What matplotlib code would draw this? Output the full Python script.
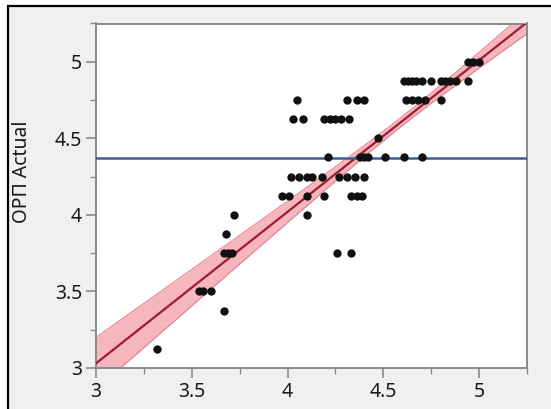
import numpy as np
import matplotlib
matplotlib.use("Agg")
import matplotlib.pyplot as plt
from matplotlib.patches import Rectangle
from matplotlib.ticker import MultipleLocator

# actual values come in steps of 1/8; predicted values for each row
actual_levels = [3.125, 3.375, 3.5, 3.75, 3.875, 4.0, 4.125, 4.25,
                 4.375, 4.5, 4.625, 4.75, 4.875, 5.0]
predicted_rows = [
    [3.32],
    [3.67],
    [3.54, 3.56, 3.60],
    [3.67, 3.69, 3.71, 4.26, 4.33],
    [3.68],
    [3.72, 4.10],
    [3.97, 4.01, 4.10, 4.19, 4.33, 4.36, 4.39],
    [4.02, 4.06, 4.10, 4.13, 4.18, 4.27, 4.31, 4.35, 4.40],
    [4.21, 4.38, 4.40, 4.42, 4.51, 4.61, 4.70],
    [4.47],
    [4.03, 4.08, 4.19, 4.22, 4.25, 4.28, 4.32],
    [4.05, 4.31, 4.36, 4.40, 4.62, 4.65, 4.68, 4.72, 4.80],
    [4.61, 4.63, 4.65, 4.67, 4.70, 4.75, 4.80, 4.82, 4.85, 4.88, 4.94],
    [4.94, 4.97, 5.00],
]

mean_actual = 4.37
fit_slope = 0.99
fit_intercept = 0.06
ci_center_x = 4.6      # where the confidence band is narrowest
ci_at_center = 0.03    # half width of the band there
ci_at_left = 0.17      # half width of the band at x = 3

ticks = [3, 3.5, 4, 4.5, 5]
tick_labels = ["3", "3.5", "4", "4.5", "5"]

pred = [p for row in predicted_rows for p in row]
act = [lvl for lvl, row in zip(actual_levels, predicted_rows) for _ in row]

plt.rcParams['font.family'] = ['Noto Sans', 'DejaVu Sans']

fig = plt.figure(figsize=(5.51, 4.09), dpi=100)
fig.patch.set_facecolor('white')
# outer panel frame (open at right and bottom, the screenshot is cropped)
fig.add_artist(Rectangle((8 / 551, -0.1), 1.0, 1 - 6 / 409 + 0.1,
                         transform=fig.transFigure, facecolor='#f0f0f0',
                         edgecolor='black', lw=1.6, zorder=-1))

ax = fig.add_axes([96 / 551, 1 - 368 / 409, 431 / 551, 344.5 / 409])
ax.set_facecolor('white')
ax.set_xlim(3, 5.25)
ax.set_ylim(3, 5.25)

xs = np.linspace(3, 5.25, 200)
fit = fit_slope * xs + fit_intercept
b2 = (ci_at_left ** 2 - ci_at_center ** 2) / (ci_center_x - 3) ** 2
hw = np.sqrt(ci_at_center ** 2 + b2 * (xs - ci_center_x) ** 2)
ax.fill_between(xs, fit - hw, fit + hw, color='#f5aab3', alpha=0.85, lw=0, zorder=1)
ax.plot(xs, fit - hw, color='#e58390', lw=0.8, zorder=2)
ax.plot(xs, fit + hw, color='#e58390', lw=0.8, zorder=2)
ax.plot(xs, fit, color='#9e1b32', lw=1.6, zorder=3)

ax.axhline(mean_actual, color='#3f5b97', lw=1.8, zorder=3)

ax.scatter(pred, act, s=36, color='#111111', zorder=4, linewidths=0)

ax.set_xticks(ticks)
ax.set_xticklabels(tick_labels)
ax.set_yticks(ticks)
ax.set_yticklabels(tick_labels)
ax.xaxis.set_minor_locator(MultipleLocator(0.25))
ax.yaxis.set_minor_locator(MultipleLocator(0.25))
ax.tick_params(which='major', length=7, width=1.2, color='#8a8a8a',
               labelsize=14, labelcolor='#1a1a1a', pad=3)
ax.tick_params(which='minor', length=4, width=1.0, color='#8a8a8a')
for sp in ax.spines.values():
    sp.set_color('#8a8a8a')
    sp.set_linewidth(1.4)

ax.set_ylabel('ОРП Actual', fontsize=14, color='#1a1a1a')
ax.yaxis.set_label_coords(-0.148, 0.57)

fig.savefig('out.png', dpi=100, facecolor=fig.get_facecolor())
